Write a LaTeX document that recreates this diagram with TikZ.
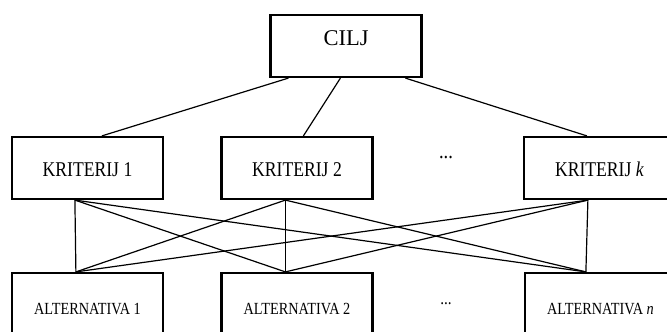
\documentclass[tikz,border=0pt]{standalone}
\usepackage{fontspec}
\setmainfont{Liberation Serif}
\newfontfamily\nfont[FakeStretch=0.84]{Liberation Serif}
\usetikzlibrary{calc}
\tikzset{
  box/.style={draw, line width=2.2pt, inner sep=0pt, minimum width=151pt, minimum height=62pt, fill=white},
  goalbox/.style={box, font=\fontsize{22.5}{25}\selectfont, text height=15pt, text depth=15.6pt},
  critbox/.style={box, font=\nfont\fontsize{21}{24}\selectfont, text height=16pt, text depth=0pt},
  altbox/.style={box, minimum height=71pt, font=\nfont\fontsize{17}{20}\selectfont, text height=11.3pt, text depth=0pt},
  conn/.style={line width=1.2pt},
  dots/.style={inner sep=0pt, anchor=base}
}
\begin{document}
\begin{tikzpicture}[x=1pt,y=-1pt]
\clip (0,0) rectangle (667,332);
\fill[white] (0,0) rectangle (667,332);
% nodes
\node[goalbox] (cilj) at (346,46) {CILJ};
\node[critbox] (k1) at (87.5,168) {KRITERIJ 1};
\node[critbox] (k2) at (297,168) {KRITERIJ 2};
\node[critbox] (kk) at (599.5,168) {KRITERIJ \textit{k}};
\node[altbox] (a1) at (87.5,308.5) {ALTERNATIVA 1};
\node[altbox] (a2) at (297,308.5) {ALTERNATIVA 2};
\node[altbox] (an) at (600.5,308.5) {ALTERNATIVA \textit{n}};
\node[dots, font=\nfont\fontsize{22}{24}\selectfont] (d1) at (446,158) {...};
\node[dots, font=\nfont\fontsize{18}{20}\selectfont] (d2) at (446,304) {...};
% connection points
\coordinate (c1) at ($(cilj.south west)+(19,0)$);
\coordinate (c2) at ($(cilj.south west)+(71,0)$);
\coordinate (c3) at ($(cilj.south west)+(136,0)$);
\coordinate (t1) at ($(k1.north west)+(91,0)$);
\coordinate (t2) at ($(k2.north west)+(83,0)$);
\coordinate (t3) at ($(kk.north west)+(64,0)$);
\coordinate (b1) at ($(k1.south west)+(64,0)$);
\coordinate (b2) at ($(k2.south west)+(65,0)$);
\coordinate (b3) at ($(kk.south west)+(65,0)$);
\coordinate (u1) at ($(a1.north west)+(65,0)$);
\coordinate (u2) at ($(a2.north west)+(65,0)$);
\coordinate (u3) at ($(an.north west)+(62,0)$);
% connectors
\draw[conn] (c1) -- (t1);
\draw[conn] (c2) -- (t2);
\draw[conn] (c3) -- (t3);
\foreach \i in {1,2,3}{
  \foreach \j in {1,2,3}{
    \draw[conn] (b\i) -- (u\j);
  }
}
\end{tikzpicture}
\end{document}
